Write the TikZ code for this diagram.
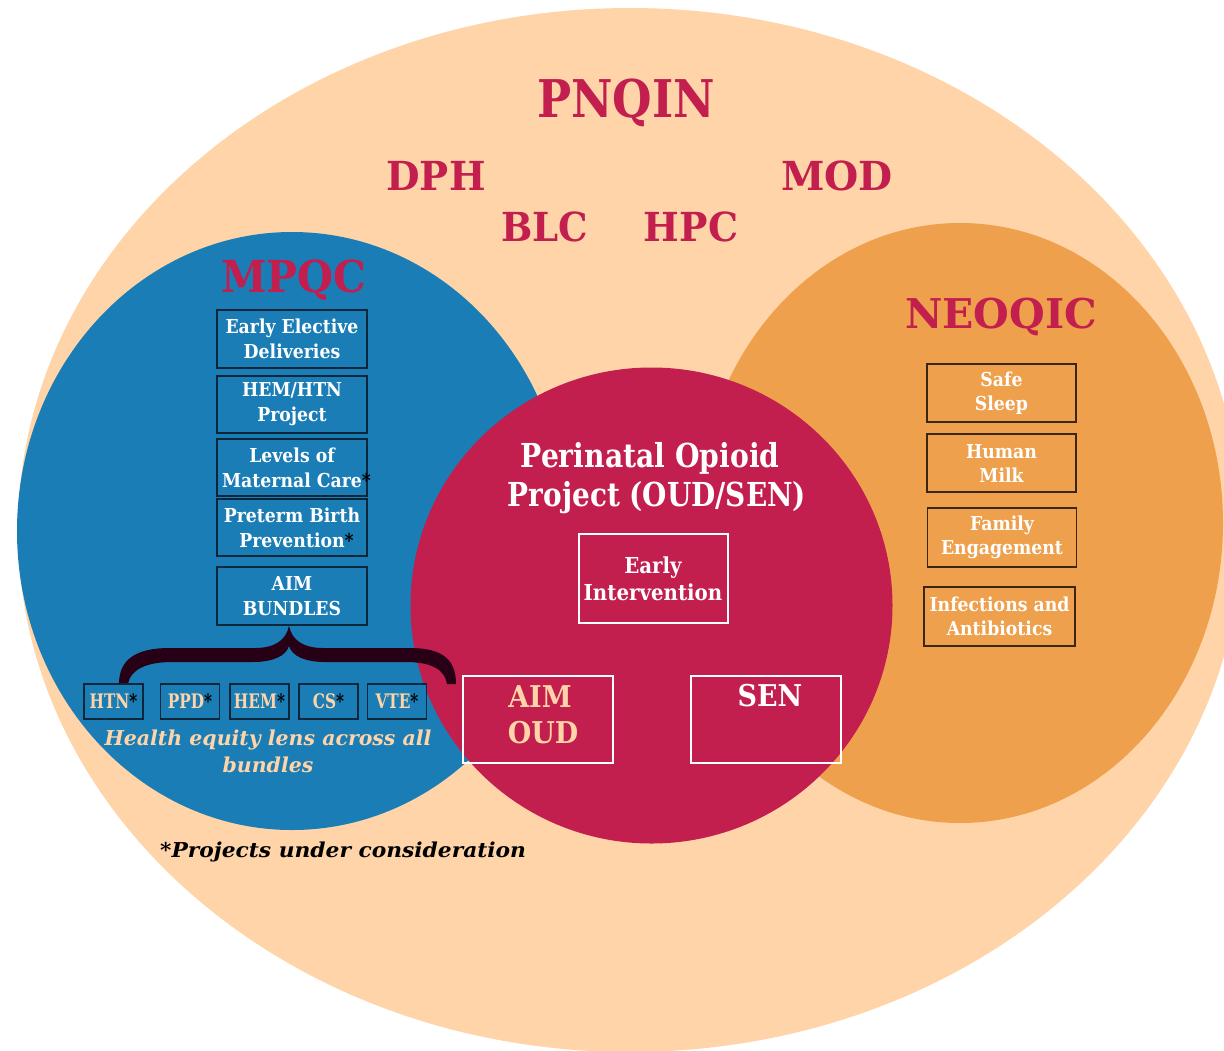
\documentclass[tikz,border=0pt]{standalone}
\usepackage{fontspec}
\usepackage{graphicx}
\setmainfont{DejaVu Serif}[FakeStretch=0.9]
\definecolor{peach}{RGB}{254,212,168}
\definecolor{mblue}{RGB}{27,125,181}
\definecolor{morange}{RGB}{238,160,76}
\definecolor{crimson}{RGB}{194,30,78}
\definecolor{bluerim}{RGB}{14,38,58}
\definecolor{orangerim}{RGB}{58,38,18}
\definecolor{bracecol}{RGB}{40,0,22}
\newcommand{\cond}[2]{\scalebox{#1}[1]{#2}}
\newcommand{\blkast}{\textcolor{black}{*}}
\begin{document}
\begin{tikzpicture}[x=1pt,y=-1pt,
  title/.style={text=crimson, inner sep=0pt, anchor=base,
    font=\bfseries\fontsize{40}{40}\selectfont},
  mbox/.style={draw=bluerim, line width=1.8pt, fill=mblue, text=white,
    minimum width=150pt, minimum height=57pt, align=center, inner sep=0pt,
    font=\bfseries\fontsize{19.2}{25}\selectfont},
  nbox/.style={draw=orangerim, line width=1.8pt, fill=morange, text=white,
    minimum width=149pt, minimum height=58pt, align=center, inner sep=0pt,
    font=\bfseries\fontsize{19.2}{24}\selectfont},
  sbox/.style={draw=bluerim, line width=1.5pt, fill=mblue, text=peach,
    minimum width=59pt, minimum height=35pt, inner sep=0pt,
    font=\bfseries\fontsize{20}{20}\selectfont},
  rbox/.style={draw=white, line width=2pt, minimum width=150pt,
    minimum height=87pt, inner sep=0pt},
  rtext/.style={inner sep=0pt, anchor=base,
    font=\bfseries\fontsize{30}{30}\selectfont},
  ltext/.style={inner sep=0pt, anchor=base,
    font=\bfseries\itshape\fontsize{20.5}{20.5}\selectfont}
]
% canvas
\fill[white] (0,0) rectangle (1224,1050);
\clip (0,0) rectangle (1224,1050);

% the four overlapping groups
\fill[peach] (630,530) ellipse [x radius=612pt, y radius=522pt];
\fill[mblue] (292,531) ellipse [x radius=275pt, y radius=299pt];
\fill[morange] (960,523) ellipse [x radius=263pt, y radius=300pt];
\fill[crimson] (651.5,605.5) ellipse [x radius=241pt, y radius=238pt];

% network partners
\node[title, font=\bfseries\fontsize{52}{52}\selectfont] (pnqin) at (626,117) {\cond{0.97}{PNQIN}};
\node[title] (dph) at (436,190) {\cond{1.075}{DPH}};
\node[title] (mod) at (837,190) {\cond{1.09}{MOD}};
\node[title] (blc) at (545,241) {\cond{1.03}{BLC}};
\node[title] (hpc) at (691,241) {\cond{1.05}{HPC}};

% MPQC
\node[title, font=\bfseries\fontsize{44}{44}\selectfont] (mpqc) at (294,292) {\cond{1.04}{MPQC}};
\node[mbox, minimum height=58pt] (eed) at (292,339) {Early Elective\\Deliveries};
\node[mbox] (hem) at (292,404.5) {HEM/HTN\\Project};
\node[mbox] (lmc) at (292,467.5) {Levels of\\Maternal Care\rlap{\blkast}};
\node[mbox] (ptb) at (292,527.5) {Preterm Birth\\Prevention\rlap{\blkast}};
\node[mbox, minimum height=58pt] (aim) at (292,596) {AIM\\BUNDLES};

% brace from the bundles box down to the individual bundles
\fill[bracecol] (119,684) .. controls (119,660) and (135,648) .. (170,648)
  -- (255,648) .. controls (275,648) and (286,640) .. (289,626)
  .. controls (292,640) and (303,648) .. (323,648)
  -- (410,648) .. controls (443,648) and (456,660) .. (456,684)
  -- (447,684) .. controls (445,670) and (432,662) .. (406,662)
  -- (325,662) .. controls (305,662) and (292,656) .. (289,646)
  .. controls (286,656) and (273,662) .. (253,662)
  -- (172,662) .. controls (146,662) and (130,670) .. (128,684) -- cycle;

\node[sbox] (htn) at (113.5,701.5) {\cond{0.85}{HTN\blkast}};
\node[sbox] (ppd) at (190,701.5) {\cond{0.85}{PPD\blkast}};
\node[sbox] (hemb) at (259.5,701.5) {\cond{0.85}{HEM\blkast}};
\node[sbox] (cs) at (328.5,701.5) {\cond{0.85}{CS\blkast}};
\node[sbox] (vte) at (397,701.5) {\cond{0.85}{VTE\blkast}};

\node[ltext, text=peach] (lens1) at (268,745) {\cond{1.11}{Health equity lens across all}};
\node[ltext, text=peach] (lens2) at (268,772) {\cond{1.11}{bundles}};

\node[ltext, text=black, anchor=base west] (note) at (160,857) {\cond{1.18}{*Projects under consideration}};

% perinatal opioid project
\node[rtext, text=white, font=\bfseries\fontsize{33}{33}\selectfont] (pop1) at (650,467) {\cond{0.95}{Perinatal Opioid}};
\node[rtext, text=white, font=\bfseries\fontsize{33}{33}\selectfont] (pop2) at (657,506) {\cond{0.94}{Project (OUD/SEN)}};
\node[rbox, minimum width=149pt, minimum height=89pt] (ei) at (653.5,578.5) {};
\node[text=white, inner sep=0pt, anchor=base, font=\bfseries\fontsize{22}{22}\selectfont] (ei1) at (653,573) {Early};
\node[text=white, inner sep=0pt, anchor=base, font=\bfseries\fontsize{22}{22}\selectfont] (ei2) at (653,600) {Intervention};
\node[rbox] (oud) at (538,719.5) {};
\node[rtext, text=peach] (oud1) at (540,707) {AIM};
\node[rtext, text=peach] (oud2) at (543,743) {OUD};
\node[rbox] (sen) at (766,719.5) {};
\node[rtext, text=white] (sen1) at (770,706) {SEN};

% NEOQIC
\node[title, font=\bfseries\fontsize{41}{41}\selectfont] (neoqic) at (1001,328) {\cond{1.11}{NEOQIC}};
\node[nbox] (sleep) at (1001.5,393) {Safe\\Sleep};
\node[nbox] (milk) at (1001.5,463) {Human\\Milk};
\node[nbox, minimum height=59pt] (family) at (1002,537.5) {Family\\Engagement};
\node[nbox, minimum width=151pt, minimum height=59pt] (infect) at (999.5,616.5) {Infections and\\Antibiotics};
\end{tikzpicture}
\end{document}
